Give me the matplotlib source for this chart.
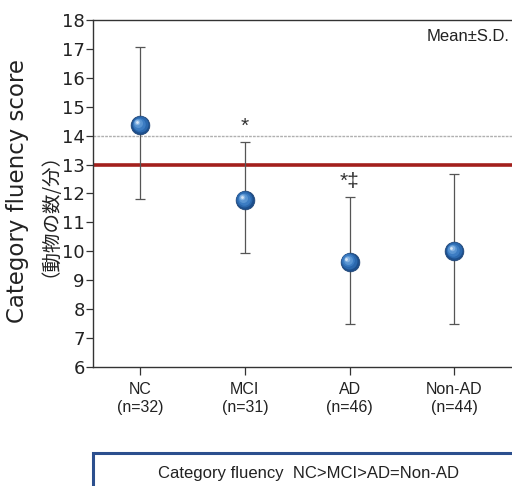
import matplotlib
matplotlib.use("Agg")
import matplotlib.pyplot as plt
from matplotlib.transforms import ScaledTranslation
from matplotlib.patches import Rectangle

groups = ["NC", "MCI", "AD", "Non-AD"]
n_labels = ["(n=32)", "(n=31)", "(n=46)", "(n=44)"]
means = [14.37, 11.78, 9.64, 10.02]
upper = [17.05, 13.78, 11.87, 12.68]
lower = [11.81, 9.94, 7.50, 7.50]
marks = ["", "*", "*\u2021", ""]
cutoff = 13
ref_line = 14
yticks = list(range(6, 19))

fig = plt.figure(figsize=(5.12, 4.86), dpi=100)
ax = fig.add_axes([93/512, 1-367/486, 1-93/512, (367-20)/486])

x = list(range(1, len(groups)+1))
err_lo = [m - l for m, l in zip(means, lower)]
err_hi = [u - m for m, u in zip(means, upper)]

ax.axhline(ref_line, color="#b0b0b0", lw=1.0, ls=(0, (2, 0.8)), zorder=1)
ax.axhline(cutoff, color="#a3201c", lw=2.6, zorder=2)

ax.errorbar(x, means, yerr=[err_lo, err_hi], fmt="none", ecolor="#555555",
            elinewidth=0.9, capsize=3.5, capthick=0.9, zorder=3)

# sphere-like markers
ax.plot(x, means, "o", ms=13.5, mfc="#1d4f8c", mec="#1a3f70", mew=0.5, zorder=4)
layers = [(11.5, "#2b68ad", -0.4, 0.4), (9.0, "#3c7cc2", -0.9, 0.9),
          (6.5, "#5a95d2", -1.4, 1.4), (4.0, "#86b3e2", -1.9, 1.9),
          (2.0, "#d6e6f7", -2.3, 2.3)]
for ms, c, dx, dy in layers:
    tr = ax.transData + ScaledTranslation(dx/72, dy/72, fig.dpi_scale_trans)
    ax.plot(x, means, "o", ms=ms, mfc=c, mec="none", transform=tr, zorder=5)

for xi, u, mk in zip(x, upper, marks):
    if mk:
        ax.text(xi, u + 0.2, mk, ha="center", va="bottom", fontsize=15,
                color="#333333", family="Liberation Sans", zorder=6)

ax.set_xlim(0.55, 4.55)
ax.set_ylim(6, 18)
ax.set_yticks(yticks)
ax.set_yticklabels([str(t) for t in yticks], family="Liberation Sans Narrow",
                   fontsize=13, color="#222222")
ax.set_xticks(x)
ax.set_xticklabels([f"{g}\n{n}" for g, n in zip(groups, n_labels)],
                   family="Liberation Sans", fontsize=11.5, color="#222222",
                   linespacing=1.2)
ax.tick_params(axis="y", length=5, width=0.9, color="#333333", pad=1)
ax.tick_params(axis="x", length=6, width=0.9, color="#333333", pad=5)
for s in ["left", "bottom", "top"]:
    ax.spines[s].set_color("#333333")
    ax.spines[s].set_linewidth(1.0)
ax.spines["right"].set_visible(False)

ax.text(0.995, 0.953, "Mean\u00b1S.D.", transform=ax.transAxes, ha="right",
        va="center", fontsize=12, family="Liberation Sans", color="#222222")

fig.text(18/512, 1-191/486, "Category fluency score", rotation=90,
         ha="center", va="center", fontsize=16.5, family="DejaVu Sans",
         color="#222222")
fig.text(40/512, 1-205/486, "（動物の数/分）", rotation=90, ha="center",
         va="center", fontsize=14, family=["Noto Sans CJK JP", "DejaVu Sans"],
         color="#222222")

fig.patches.append(Rectangle((93/512, -0.05), 0.9, 0.05 + (486-453)/486,
                             transform=fig.transFigure, fill=False,
                             edgecolor="#2c4f8e", lw=2.2))
fig.text(309/512, 1-473/486, "Category fluency  NC>MCI>AD=Non-AD",
         ha="center", va="center", fontsize=12, family="Liberation Sans",
         color="#222222")

fig.savefig("out.png", dpi=100)
